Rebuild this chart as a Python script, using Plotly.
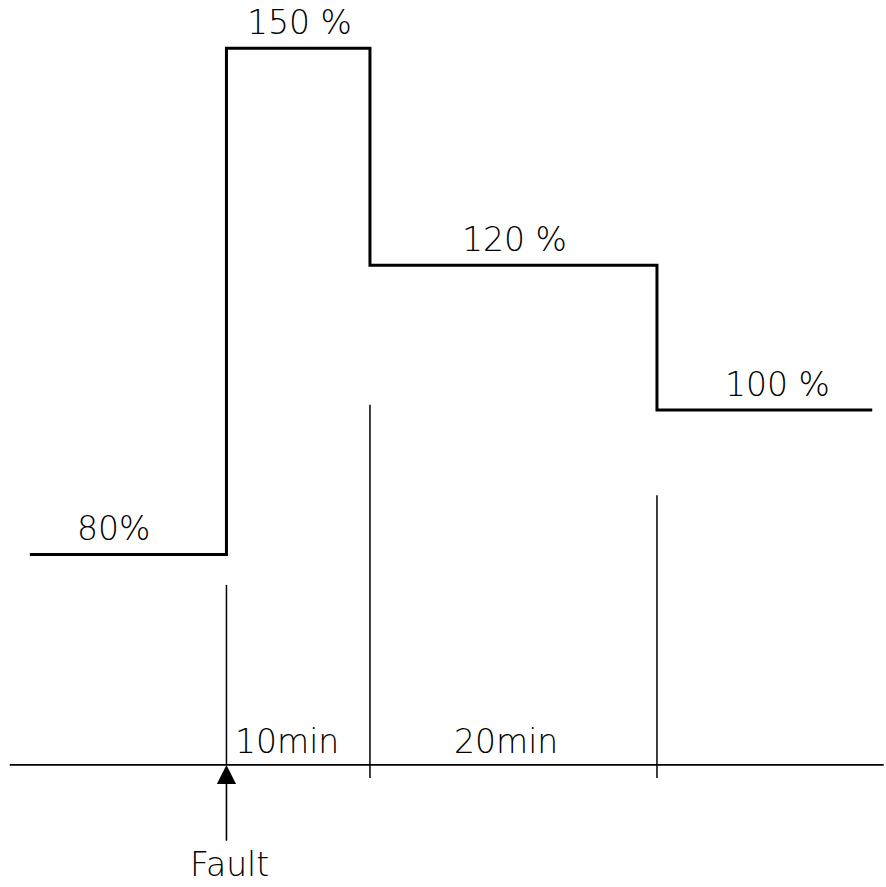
import plotly.graph_objects as go

# Load profile after a fault (time in minutes, load in %)
step_times = [-13.7, 0, 10, 30, 45.0]
load_levels = [80, 150, 120, 100, 100]
level_labels = ["80%", "150 %", "120 %", "100 %"]
label_times = [-7.9, 5.1, 20.1, 38.4]
interval_labels = ["10min", "20min"]
interval_mid = [4.2, 19.5]
marker_times = [0, 10, 30]
marker_tops = [75.8, 100.7, 88.2]
baseline = 50.9
axis_extent = [-15.1, 45.8]

FONT = "DejaVu Sans"
FSIZE = 33
FWEIGHT = 200

fig = go.Figure()
fig.add_trace(go.Scatter(
    x=step_times, y=load_levels, mode="lines", line_shape="hv",
    line=dict(color="black", width=3), hoverinfo="skip", showlegend=False))

shapes = [dict(type="line", xref="x", yref="y", x0=axis_extent[0], x1=axis_extent[1],
               y0=baseline, y1=baseline, line=dict(color="black", width=1.8))]
for t, top in zip(marker_times, marker_tops):
    bottom = baseline if t == 0 else baseline - 1.8
    shapes.append(dict(type="line", xref="x", yref="y", x0=t, x1=t, y0=bottom, y1=top,
                       line=dict(color="black", width=1.5)))

font = dict(family=FONT, size=FSIZE, color="black", weight=FWEIGHT)
annotations = []
for txt, t, lvl in zip(level_labels, label_times, load_levels[:4]):
    annotations.append(dict(x=t, y=lvl, text=txt, showarrow=False, yanchor="bottom",
                            yshift=4, font=font))
for txt, t in zip(interval_labels, interval_mid):
    annotations.append(dict(x=t, y=baseline, text=txt, showarrow=False, yanchor="bottom",
                            yshift=2, font=font))
# Fault arrow
annotations.append(dict(x=0, y=baseline, ax=0, ay=40.2, axref="x", ayref="y",
                        xref="x", yref="y", text="", showarrow=True, arrowhead=2,
                        arrowsize=2.4, arrowwidth=1.6, arrowcolor="black", standoff=0))
annotations.append(dict(x=0.2, y=0, xref="x", yref="paper", text="Fault",
                        showarrow=False, yanchor="bottom", yshift=1, font=font))

fig.update_layout(
    width=886, height=887, margin=dict(l=0, r=0, t=0, b=0),
    paper_bgcolor="white", plot_bgcolor="white",
    xaxis=dict(range=[-15.78, 45.96], visible=False, fixedrange=True),
    yaxis=dict(range=[34.01, 156.69], visible=False, fixedrange=True),
    shapes=shapes, annotations=annotations, showlegend=False)

fig.write_html("out.html", config={"displayModeBar": False},
               post_script="document.body.style.margin='0';")
